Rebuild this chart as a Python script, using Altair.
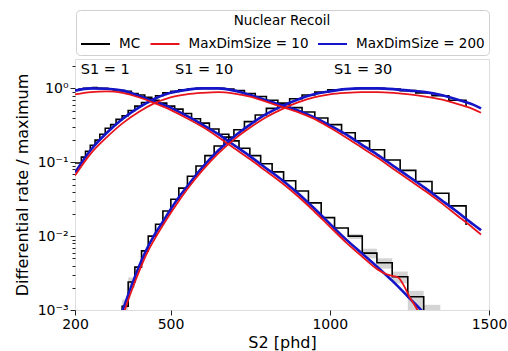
import altair as alt
import pandas as pd

# ---------------- data (values are log10 of rate / maximum) ----------------
series_names = ["MC", "MaxDimSize = 10", "MaxDimSize = 200"]
series_colors = ["#000000", "#e8141c", "#1414c8"]

# MC histograms: left bin edges (phd) and log10 values (step-after)
edges_s1_1 = [200, 213, 226, 240, 255, 270, 286, 303, 320, 338, 357, 377, 398, 419, 441, 464, 488, 513,
              539, 566, 594, 622, 652, 683, 715, 749, 783, 819, 855, 893, 933, 973, 1015, 1058, 1102,
              1148, 1196, 1245, 1295]
mc_s1_1_log = [-0.02, -0.01, 0.0, 0.0, 0.01, 0.0, 0.0, -0.01, -0.02, -0.03, -0.04, -0.07, -0.09, -0.12,
               -0.16, -0.2, -0.24, -0.28, -0.34, -0.41, -0.47, -0.55, -0.62, -0.71, -0.81, -0.91, -1.02,
               -1.13, -1.25, -1.39, -1.55, -1.75, -1.89, -2.0, -2.23, -2.36, -2.55, -2.82, -3.5]

edges_s1_10 = [200, 220, 233, 248, 263, 278, 295, 312, 329, 348, 367, 388, 409, 430, 453, 476, 501, 526,
               553, 580, 608, 637, 668, 699, 732, 766, 801, 837, 874, 913, 953, 994, 1037, 1080, 1125,
               1172, 1221, 1270, 1321, 1374, 1428]
mc_s1_10_log = [-1.01, -0.93, -0.85, -0.77, -0.70, -0.62, -0.54, -0.49, -0.42, -0.37, -0.30, -0.24, -0.19,
                -0.14, -0.10, -0.06, -0.04, -0.02, -0.01, 0.0, 0.0, 0.0, -0.01, -0.03, -0.07, -0.11,
                -0.16, -0.21, -0.26, -0.32, -0.40, -0.49, -0.60, -0.71, -0.83, -0.97, -1.11, -1.26,
                -1.42, -1.59, -1.85]

edges_s1_30 = [329, 348, 367, 388, 409, 430, 453, 476, 501, 526, 553, 580, 608, 637, 668, 699, 732, 766,
               801, 837, 874, 913, 953, 994, 1037, 1080, 1125, 1172, 1221, 1270, 1321, 1374, 1428]
mc_s1_30_log = [-3.5, -2.95, -2.62, -2.42, -2.2, -2.0, -1.84, -1.66, -1.5, -1.35, -1.19, -1.05, -0.91,
                -0.78, -0.66, -0.56, -0.45, -0.36, -0.27, -0.2, -0.14, -0.09, -0.05, -0.02, -0.01, 0.0,
                0.0, -0.01, -0.03, -0.06, -0.1, -0.16, -0.24]

# Model curves
s2_s1_1 = [200, 250, 300, 350, 400, 450, 500, 550, 600, 650, 700, 750, 800, 850, 900, 950, 1000, 1050,
           1100, 1150, 1200, 1250, 1300, 1325]
blue_s1_1_log = [-0.03, 0.0, -0.005, -0.03, -0.1, -0.18, -0.26, -0.37, -0.49, -0.62, -0.77, -0.92, -1.08,
                 -1.24, -1.42, -1.62, -1.83, -2.04, -2.23, -2.42, -2.62, -2.84, -3.06, -3.18]
s2_s1_1_red = [200, 250, 300, 350, 400, 450, 500, 550, 600, 650, 700, 750, 800, 850, 900, 950, 1000,
               1050, 1100, 1150, 1175, 1200, 1215, 1230, 1250, 1275, 1290]
red_s1_1_log = [-0.08, -0.05, -0.04, -0.06, -0.12, -0.2, -0.29, -0.4, -0.52, -0.66, -0.81, -0.96, -1.12,
                -1.28, -1.46, -1.66, -1.87, -2.08, -2.27, -2.45, -2.51, -2.54, -2.56, -2.65, -2.82, -3.0,
                -3.15]

s2_s1_10 = [200, 250, 300, 350, 400, 450, 500, 550, 600, 650, 700, 750, 800, 850, 900, 950, 1000, 1050,
            1100, 1150, 1200, 1250, 1300, 1350, 1400, 1450, 1475]
blue_s1_10_log = [-1.14, -0.83, -0.6, -0.41, -0.26, -0.14, -0.06, -0.02, 0.0, 0.0, -0.03, -0.09, -0.16,
                  -0.23, -0.3, -0.39, -0.5, -0.62, -0.76, -0.9, -1.05, -1.2, -1.35, -1.51, -1.67, -1.84,
                  -1.92]
red_s1_10_log = [-1.18, -0.88, -0.66, -0.47, -0.32, -0.2, -0.12, -0.08, -0.06, -0.05, -0.07, -0.11, -0.18,
                 -0.25, -0.32, -0.41, -0.53, -0.66, -0.8, -0.94, -1.09, -1.24, -1.39, -1.55, -1.72, -1.89,
                 -1.98]

s2_s1_30 = [325, 350, 375, 400, 425, 450, 475, 500, 525, 550, 575, 600, 650, 700, 750, 800, 850, 900, 950,
            1000, 1050, 1100, 1150, 1200, 1250, 1300, 1350, 1400, 1450, 1475]
blue_s1_30_log = [-3.3, -3.0, -2.7, -2.42, -2.18, -1.98, -1.81, -1.64, -1.48, -1.34, -1.2, -1.07, -0.84,
                  -0.65, -0.49, -0.35, -0.24, -0.15, -0.08, -0.04, -0.01, 0.0, 0.0, -0.01, -0.03, -0.05,
                  -0.09, -0.15, -0.22, -0.27]
red_s1_30_log = [-3.4, -3.08, -2.77, -2.49, -2.24, -2.04, -1.86, -1.69, -1.53, -1.38, -1.24, -1.11, -0.88,
                 -0.69, -0.53, -0.39, -0.28, -0.19, -0.12, -0.08, -0.06, -0.05, -0.05, -0.06, -0.08, -0.11,
                 -0.15, -0.21, -0.28, -0.33]

# MC uncertainty bands (grey)
band_s2_from = [1058, 1102, 1148, 1196, 1245, 1295, 348, 367]
band_s2_to = [1102, 1148, 1196, 1245, 1295, 1347, 367, 388]
band_lo_log = [-2.04, -2.3, -2.44, -2.64, -3.1, -3.5, -3.5, -2.7]
band_hi_log = [-1.97, -2.17, -2.3, -2.48, -2.74, -2.93, -2.86, -2.56]

# annotations
ann_text = ["S1 = 1", "S1 = 10", "S1 = 30"]
ann_s2 = [218, 514, 1013]
ann_val = [1.77, 1.77, 1.77]

# axis ticks
x_ticks = [200, 500, 1000, 1500]
y_ticks = [0.001, 0.002, 0.003, 0.004, 0.005, 0.006, 0.007, 0.008, 0.009,
           0.01, 0.02, 0.03, 0.04, 0.05, 0.06, 0.07, 0.08, 0.09,
           0.1, 0.2, 0.3, 0.4, 0.5, 0.6, 0.7, 0.8, 0.9, 1, 2]


# ---------------- tables ----------------
def curve(s2, logv, series, group):
    return pd.DataFrame({"S2": s2, "val": [10 ** v for v in logv], "series": series, "group": group})


mc_df = pd.concat([
    curve(edges_s1_1, mc_s1_1_log, "MC", "s1"),
    curve(edges_s1_10, mc_s1_10_log, "MC", "s10"),
    curve(edges_s1_30, mc_s1_30_log, "MC", "s30"),
])
blue_df = pd.concat([
    curve(s2_s1_1, blue_s1_1_log, "MaxDimSize = 200", "s1"),
    curve(s2_s1_10, blue_s1_10_log, "MaxDimSize = 200", "s10"),
    curve(s2_s1_30, blue_s1_30_log, "MaxDimSize = 200", "s30"),
])
red_df = pd.concat([
    curve(s2_s1_1_red, red_s1_1_log, "MaxDimSize = 10", "s1"),
    curve(s2_s1_10, red_s1_10_log, "MaxDimSize = 10", "s10"),
    curve(s2_s1_30, red_s1_30_log, "MaxDimSize = 10", "s30"),
])
band_df = pd.DataFrame({
    "S2": band_s2_from, "S2b": band_s2_to,
    "val": [10 ** v for v in band_lo_log], "valb": [10 ** v for v in band_hi_log],
})
ann_df = pd.DataFrame({"S2": ann_s2, "val": ann_val, "txt": ann_text})

# ---------------- encodings ----------------
FONT = "DejaVu Sans"
xscale = alt.Scale(domain=[200, 1500], nice=False, zero=False)
yscale = alt.Scale(type="log", domain=[0.001, 2.5], nice=False)

x_axis = alt.Axis(values=x_ticks, format="d", title="S2 [phd]", labelFontSize=14, titleFontSize=16,
                  titleFontWeight="normal", tickSize=5, labelPadding=2, titlePadding=3,
                  labelColor="black", titleColor="black", tickColor="#222", domain=False, grid=False,
                  labelFont=FONT, titleFont=FONT, labelFlush=False)
y_label_expr = ("datum.value == 1 ? '10\u2070' : datum.value == 0.1 ? '10\u207b\u00b9' : "
                "datum.value == 0.01 ? '10\u207b\u00b2' : datum.value == 0.001 ? '10\u207b\u00b3' : ''")
y_axis = alt.Axis(values=y_ticks, title="Differential rate / maximum", labelExpr=y_label_expr,
                  labelFontSize=14, titleFontSize=16, titleFontWeight="normal",
                  tickSize={"condition": {"test": "indexof([0.001, 0.01, 0.1, 1], datum.value) >= 0",
                                          "value": 5}, "value": 3},
                  labelPadding=2, titlePadding=7, labelColor="black", titleColor="black",
                  tickColor="#222", domain=False, grid=False, labelFont=FONT, titleFont=FONT,
                  labelFlush=False)

X = alt.X("S2:Q", scale=xscale, axis=x_axis)
Y = alt.Y("val:Q", scale=yscale, axis=y_axis)
color = alt.Color(
    "series:N",
    scale=alt.Scale(domain=series_names, range=series_colors),
    sort=series_names,
    legend=alt.Legend(
        title="Nuclear Recoil", orient="none", legendX=1, legendY=-49, direction="horizontal",
        titleAnchor="middle", titleFontSize=13.5, titleFontWeight="normal", titleFont=FONT,
        titleColor="black", labelFontSize=13.5, labelFont=FONT, labelColor="black",
        symbolType="stroke", symbolSize=841, symbolStrokeWidth=2, labelOffset=8,
        columnPadding=5.5, padding=4, fillColor="white", strokeColor="#d0d0d0", cornerRadius=4,
        titlePadding=1, titleLimit=400, labelLimit=300,
    ),
)

bands = alt.Chart(band_df).mark_rect(color="#d4d4d4", clip=True).encode(
    x=X, x2="S2b:Q", y=Y, y2="valb:Q"
)
mc = alt.Chart(mc_df).mark_line(interpolate="step-after", strokeWidth=1.6, clip=True).encode(
    x=X, y=Y, color=color, detail="group:N"
)
blue = alt.Chart(blue_df).mark_line(interpolate="monotone", strokeWidth=2.6, clip=True).encode(
    x=X, y=Y, color=color, detail="group:N"
)
red = alt.Chart(red_df).mark_line(interpolate="monotone", strokeWidth=1.8, clip=True).encode(
    x=X, y=Y, color=color, detail="group:N"
)
texts = alt.Chart(ann_df).mark_text(align="left", baseline="middle", fontSize=14.5, font=FONT,
                                    color="black").encode(x=X, y=Y, text="txt:N")

chart = alt.layer(bands, mc, blue, red, texts).properties(
    width=414, height=251,
    autosize=alt.AutoSizeParams(type="none"),
    padding={"left": 75, "top": 59, "right": 19, "bottom": 41},
).configure_view(stroke="#222", strokeWidth=1).configure(font=FONT)

chart.save("out.html", embed_options={"renderer": "svg", "actions": False})
